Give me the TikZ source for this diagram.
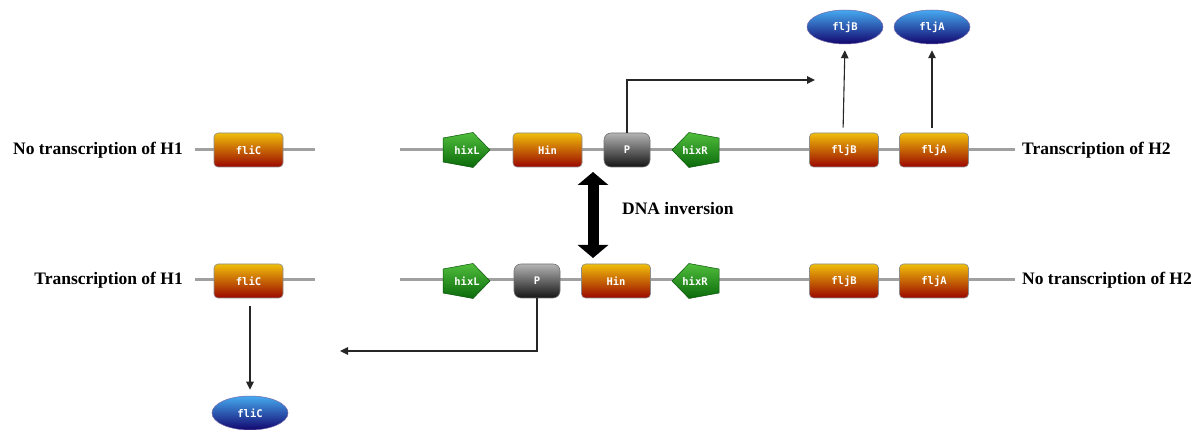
\documentclass[tikz,border=0pt]{standalone}
\usepackage{fontspec}
\setmainfont{Liberation Serif}
\newfontfamily\genefont{DejaVu Sans Mono}
\usetikzlibrary{shapes.geometric,arrows.meta}

\definecolor{geneTop}{RGB}{240,190,10}
\definecolor{geneMid}{RGB}{214,92,6}
\definecolor{geneBot}{RGB}{155,6,0}
\definecolor{promTop}{RGB}{180,180,180}
\definecolor{promBot}{RGB}{20,20,20}
\definecolor{siteTop}{RGB}{80,190,60}
\definecolor{siteBot}{RGB}{10,105,10}
\definecolor{protTop}{RGB}{70,170,240}
\definecolor{protMid}{RGB}{25,35,200}
\definecolor{protBot}{RGB}{18,5,110}
\definecolor{dnaGray}{RGB}{160,160,160}

\tikzset{
  dna/.style={draw=dnaGray, line width=3pt},
  glabel/.style={font=\genefont\bfseries\fontsize{10.5}{12}\selectfont, text=white},
  gene/.style={glabel, rounded corners=4pt, minimum width=69pt, minimum height=34pt,
    top color=geneTop, middle color=geneMid, bottom color=geneBot,
    draw=black!45, line width=0.6pt, inner sep=0pt},
  prom/.style={glabel, rounded corners=7pt, minimum width=46pt, minimum height=34pt,
    top color=promTop, bottom color=promBot, draw=black!55, line width=0.6pt,
    inner sep=0pt},
  sitebody/.style={top color=siteTop, bottom color=siteBot,
    draw=siteBot!80!black, line width=0.5pt},
  site/.style={glabel, inner sep=0pt, minimum width=47pt, minimum height=35pt},
  prot/.style={glabel, ellipse, minimum width=76pt, minimum height=34pt,
    top color=protTop, middle color=protMid, bottom color=protBot,
    draw=protBot!60, line width=0.5pt, inner sep=0pt},
  label/.style={font=\bfseries\fontsize{17.5}{20}\selectfont, text=black, inner sep=0pt},
  thinarrow/.style={draw=black!85, line width=1.1pt, -{Triangle[length=8pt,width=7.5pt]}},
  bigarrow/.style={draw=black, line width=11pt,
    {Triangle[length=13pt,width=30pt]}-{Triangle[length=13pt,width=30pt]}}
}

% recombination site: a pentagon pointing right (+1) or left (-1), with its label node
\newcommand{\hixsite}[5]{%
  \begin{scope}[shift={(#2,#3)}, xscale=#4]
    \shade[sitebody] (-24,-12) -- (6,-17.5) -- (23,0) -- (6,17.5) -- (-24,12) -- cycle;
  \end{scope}
  \node[site] (#1) at (#2,#3) {#5};%
}

\begin{document}
\begin{tikzpicture}[x=1pt,y=-1pt]
  \fill[white] (0,0) rectangle (1200,430);
  \useasboundingbox (0,0) rectangle (1200,430);

  % DNA backbones
  \coordinate (a1) at (195,150);  \coordinate (a2) at (315,150);
  \coordinate (a3) at (400,150);  \coordinate (a4) at (1015,150);
  \coordinate (b1) at (195,280);  \coordinate (b2) at (315,280);
  \coordinate (b3) at (400,280);  \coordinate (b4) at (1015,280);
  \draw[dna] (a1) -- (a2);  \draw[dna] (a3) -- (a4);
  \draw[dna] (b1) -- (b2);  \draw[dna] (b3) -- (b4);

  % upper locus: H2 expressed
  \node[label, anchor=east] (lblA) at (183,150) {No transcription of H1};
  \node[label, anchor=west] (lblB) at (1022,150) {Transcription of H2};
  \node[gene] (fliCa) at (248.5,150) {fliC};
  \hixsite{hixLa}{467}{150}{1}{hixL}
  \node[gene] (hina) at (547.5,150) {Hin};
  \node[prom] (pa) at (627,150) {P};
  \hixsite{hixRa}{695}{150}{-1}{hixR}
  \node[gene] (fljBa) at (844,150) {fljB};
  \node[gene] (fljAa) at (934,150) {fljA};

  \node[prot] (fljBp) at (845,27) {fljB};
  \node[prot] (fljAp) at (932,27) {fljA};

  \coordinate (pend) at (815,80);
  \draw[thinarrow] (pa.north) |- (pend);
  \coordinate (fb0) at ([xshift=-1pt]fljBa.north);
  \coordinate (fa0) at ([xshift=-2pt]fljAa.north);
  \draw[thinarrow, shorten <=5pt, shorten >=6pt] (fb0) -- (fljBp.south);
  \draw[thinarrow, shorten <=5pt, shorten >=6pt] (fa0) -- (fljAp.south);

  % inversion
  \coordinate (invT) at (593,172);
  \coordinate (invB) at (593,258);
  \draw[bigarrow] (invT) -- (invB);
  \node[label, anchor=west] (inv) at (622,209) {DNA inversion};

  % lower locus: H1 expressed
  \node[label, anchor=east] (lblC) at (183,280) {Transcription of H1};
  \node[label, anchor=west] (lblD) at (1022,280) {No transcription of H2};
  \node[gene] (fliCb) at (248.5,281) {fliC};
  \hixsite{hixLb}{467}{281}{1}{hixL}
  \node[prom] (pb) at (537,281) {P};
  \node[gene] (hinb) at (616,281) {Hin};
  \hixsite{hixRb}{695}{281}{-1}{hixR}
  \node[gene] (fljBb) at (844,281) {fljB};
  \node[gene] (fljAb) at (934,281) {fljA};

  \node[prot] (fliCp) at (250,413) {fliC};

  \coordinate (qend) at (340,351);
  \draw[thinarrow] (pb.south) |- (qend);
  \draw[thinarrow, shorten <=8pt, shorten >=6pt] (fliCb.south -| fliCp.north) -- (fliCp.north);
\end{tikzpicture}
\end{document}
